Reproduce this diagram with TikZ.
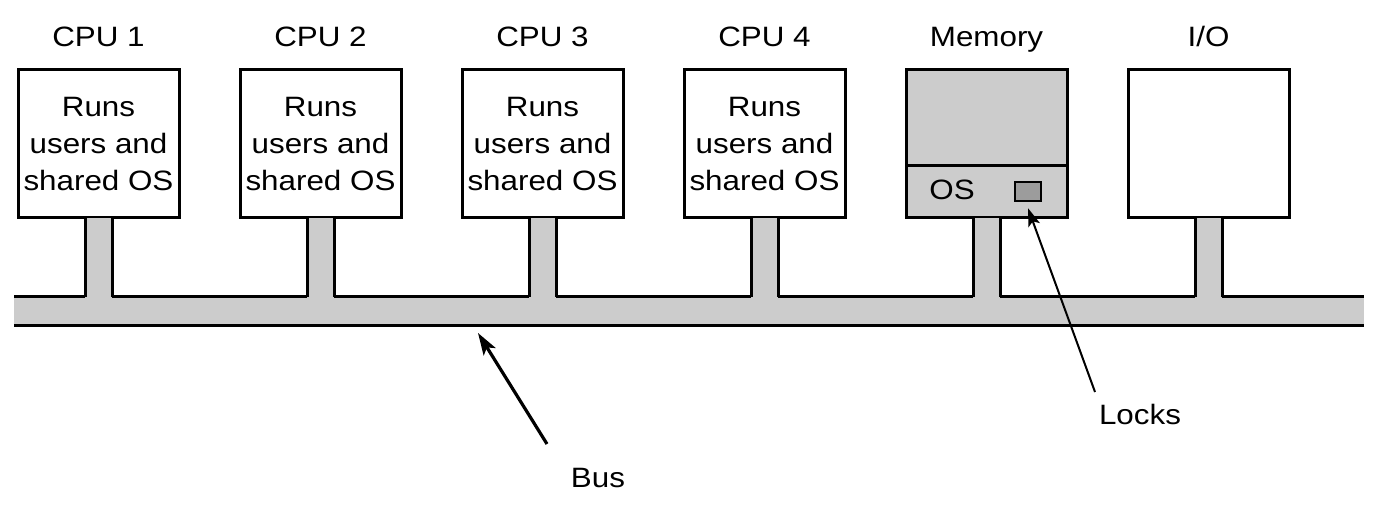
\documentclass[tikz,border=0pt]{standalone}
\usepackage{fontspec}
\setmainfont{Liberation Sans}[FakeStretch=1.12]
\usepackage{tikz}
\usetikzlibrary{arrows.meta}

\definecolor{busgray}{HTML}{CCCCCC}
\definecolor{lockgray}{HTML}{9C9C9C}

\begin{document}
\begin{tikzpicture}[x=0.5pt,y=-0.5pt,
    every node/.style={font=\fontsize{14}{18.5}\selectfont},
    unit/.style={draw,line width=1.5pt,minimum width=80.5pt,minimum height=74pt,
        align=center,inner sep=0pt,outer sep=0pt},
    title/.style={anchor=base},
    wire/.style={line width=1.5pt},
    pointer/.style={-{Stealth[length=9pt,width=6pt,inset=2pt]},line width=1pt}]
\useasboundingbox (0,0) rectangle (1384,506);

% processors, memory and I/O
\foreach \n/\x in {1/98.5,2/320.5,3/542.5,4/764.5}{
    \node[unit] (cpu\n) at (\x,144) {Runs\\users and\\shared OS};
    \node[title] (lab\n) at (\x,47) {CPU \n};
}
\node[unit,fill=busgray] (mem) at (986.5,144) {};
\node[unit] (io) at (1208.5,144) {};
\node[title] (labmem) at (986.5,47) {Memory};
\node[title] (labio) at (1208.5,47) {I/O};
\draw[wire] (mem.west |- 0,166) -- (mem.east |- 0,166);
\node (os) at (952,190) {OS};
\node[draw,line width=1.2pt,fill=lockgray,minimum width=13pt,minimum height=9.5pt,inner sep=0pt]
    (lock) at (1028,191.5) {};

% the bus
\fill[busgray] (14,297) rectangle (1364,326);
\foreach \n in {cpu1,cpu2,cpu3,cpu4,mem,io}{
    \fill[busgray] ([shift={(-13.5,0)}]\n.south) rectangle ([shift={(13.5,79)}]\n.south);
    \draw[wire] ([shift={(-13.5,0)}]\n.south) -- ++(0,79);
    \draw[wire] ([shift={(13.5,0)}]\n.south) -- ++(0,79);
}
\draw[wire] (14,297) -- ([shift={(-13.5,79)}]cpu1.south);
\foreach \a/\b in {cpu1/cpu2,cpu2/cpu3,cpu3/cpu4,cpu4/mem,mem/io}
    \draw[wire] ([shift={(13.5,79)}]\a.south) -- ([shift={(-13.5,79)}]\b.south);
\draw[wire] ([shift={(13.5,79)}]io.south) -- (1364,297);
\draw[wire] (14,326) -- (1364,326);

% labels
\node (bus) at (598,478) {Bus};
\node (locks) at (1140,414) {Locks};
\coordinate (bustip) at (478,333);
\coordinate (bustail) at (547,444);
\coordinate (locktail) at (1095,392);
\draw[pointer,line width=1.6pt,-{Stealth[length=11pt,width=7pt,inset=2.5pt]}] (bustail) -- (bustip);
\draw[pointer] (locktail) -- ([yshift=-3pt]lock.south);
\end{tikzpicture}
\end{document}
